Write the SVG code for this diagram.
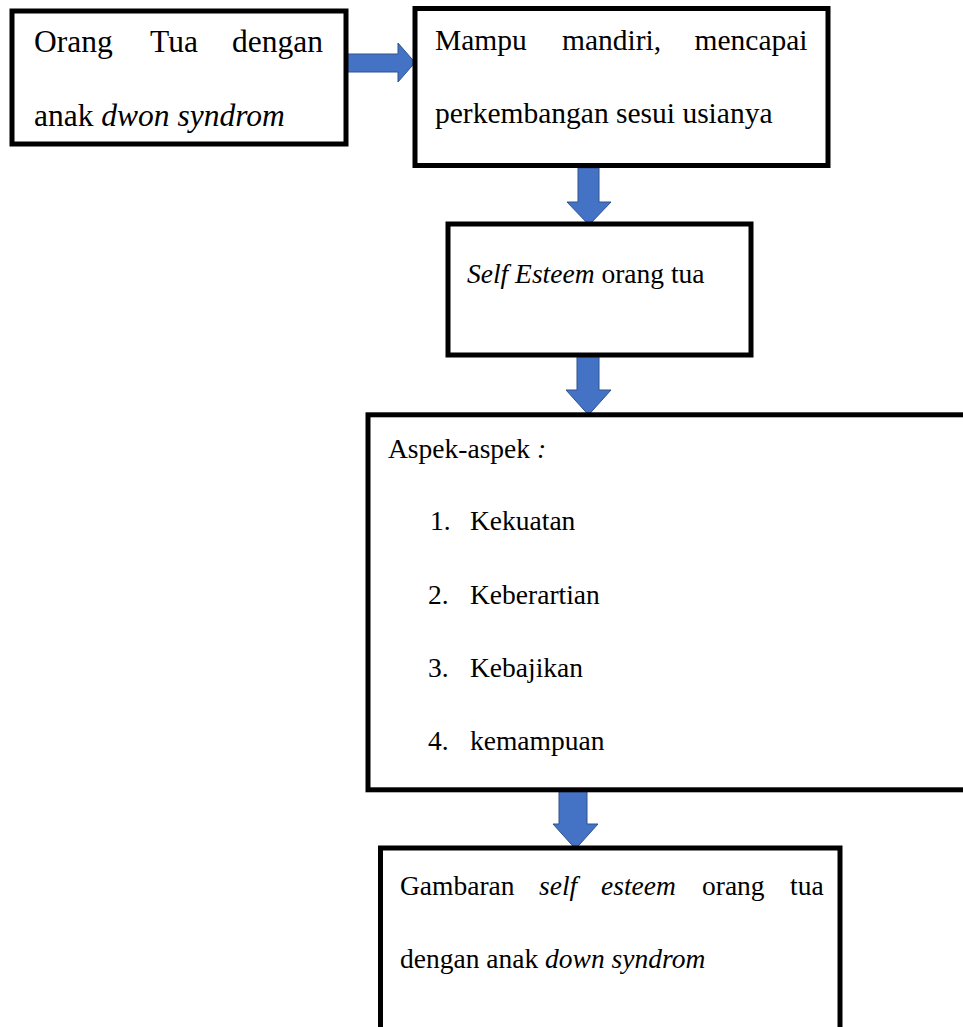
<svg xmlns="http://www.w3.org/2000/svg" width="963" height="1027" viewBox="0 0 963 1027">
<style>
.box{fill:#fff;stroke:#000;stroke-width:5}
.arr{fill:#4472C4;stroke:#2F528F;stroke-width:1}
text{font-family:"Liberation Serif","Times New Roman",serif;fill:#000}
.f1{font-size:31.5px}
.f2{font-size:29.5px}
.f3{font-size:27.5px}
.i{font-style:italic}
</style>
<rect width="963" height="1027" fill="#fff"/>
<g id="connectors">
<polygon class="arr" points="345,54 398,54 398,43 415,62.5 398,82 398,72 345,72"/>
<polygon class="arr" points="578,168 599,168 599,202 611,202 589,225 567,202 578,202"/>
<polygon class="arr" points="577,355 599,355 599,390 611,390 588.5,415 566,390 577,390"/>
<polygon class="arr" points="559,789 587,789 587,824 598,824 575.5,849 553,824 559,824"/>
</g>
<g id="node1">
<rect class="box" x="12" y="11" width="334" height="133"/>
<text class="f1" y="52"><tspan x="34">Orang</tspan><tspan x="150">Tua</tspan><tspan x="232">dengan</tspan></text>
<text class="f1" x="34" y="126">anak <tspan class="i">dwon syndrom</tspan></text>
</g>
<g id="node2">
<rect class="box" x="415" y="8.5" width="413" height="157"/>
<text class="f2" y="50"><tspan x="435">Mampu</tspan><tspan x="562">mandiri,</tspan><tspan x="694.5">mencapai</tspan></text>
<text class="f2" x="435" y="123">perkembangan sesui usianya</text>
</g>
<g id="node3">
<rect class="box" x="448" y="224" width="303" height="131"/>
<text class="f3" x="467" y="283"><tspan class="i">Self Esteem</tspan> orang tua</text>
</g>
<g id="node4">
<rect class="box" x="368" y="414.8" width="620" height="375"/>
<text class="f3" x="388" y="458">Aspek-aspek <tspan class="i">:</tspan></text>
<text class="f3" y="530"><tspan x="430">1.</tspan><tspan x="470">Kekuatan</tspan></text>
<text class="f3" y="604"><tspan x="428">2.</tspan><tspan x="470">Keberartian</tspan></text>
<text class="f3" y="677"><tspan x="428">3.</tspan><tspan x="470">Kebajikan</tspan></text>
<text class="f3" y="750"><tspan x="428">4.</tspan><tspan x="470">kemampuan</tspan></text>
</g>
<g id="node5">
<rect class="box" x="380.5" y="848" width="459.5" height="200"/>
<text class="f3" y="895"><tspan x="400">Gambaran</tspan><tspan class="i" x="539">self</tspan><tspan class="i" x="601">esteem</tspan><tspan x="702">orang</tspan><tspan x="790">tua</tspan></text>
<text class="f3" x="400" y="968">dengan anak <tspan class="i">down syndrom</tspan></text>
</g>
</svg>
